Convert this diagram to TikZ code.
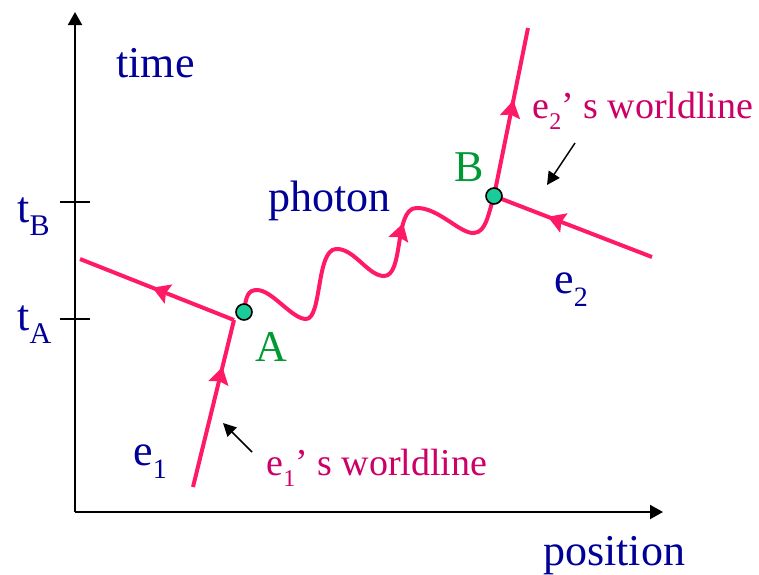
\documentclass[tikz,border=0pt]{standalone}
\usepackage{fontspec}
\setmainfont{Liberation Serif}
\definecolor{mNavy}{HTML}{000099}
\definecolor{mRose}{HTML}{FF1A66}
\definecolor{mPlum}{HTML}{CC0066}
\definecolor{mGreen}{HTML}{009933}
\definecolor{mMint}{HTML}{1ACC99}
\usetikzlibrary{arrows.meta,decorations.markings}
\newcommand{\lowsub}[2][14]{\raisebox{-0.3em}{\fontsize{#1}{#1}\selectfont #2}}

\begin{document}
\begin{tikzpicture}[x=0.5pt, y=-0.5pt, font=\fontsize{22}{24}\selectfont,
  world/.style={mRose, line width=2pt},
  midarrow/.style={postaction={decorate}, decoration={markings,
    mark=at position #1 with {\arrow{Stealth[length=8.5pt,width=10pt,inset=1.2pt]}}}},
  event/.style={circle, draw=black, fill=mMint, line width=0.8pt, inner sep=0pt, minimum size=8pt},
  lbl/.style={anchor=base west, inner sep=0pt, text=mNavy},
  pointer/.style={-{Triangle[length=6.5pt,width=6.5pt]}, line width=0.75pt}]
\useasboundingbox (0,0) rectangle (759,574);
% axes
\coordinate (O) at (75,512);
\coordinate (tTop) at (75,12);
\coordinate (xEnd) at (663,512);
\draw[line width=1pt, -{Triangle[length=6.5pt,width=7pt]}] (O) -- (tTop);
\draw[line width=1pt, -{Triangle[length=6.5pt,width=7pt]}] (O) -- (xEnd);
\node[lbl] (timeLbl) at (116,77) {time};
\node[lbl] (posLbl) at (543,565) {position};
% ticks for the two events
\coordinate (tBl) at (60,202); \coordinate (tBr) at (90,202);
\coordinate (tAl) at (60,319); \coordinate (tAr) at (90,319);
\draw[line width=0.75pt] (tBl) -- (tBr);
\draw[line width=0.75pt] (tAl) -- (tAr);
\node[lbl] (tBLbl) at (17,222) {t\lowsub[15]{B}};
\node[lbl] (tALbl) at (17,330) {t\lowsub[15]{A}};
% electron 1 and event A
\coordinate (e1Start) at (193,487);
\coordinate (A) at (234,320);
\coordinate (e1End) at (80,259);
\draw[world, midarrow=0.72] (e1Start) -- (A);
\draw[world, midarrow=0.53] (A) -- (e1End);
% electron 2 and event B
\coordinate (B) at (494,196);
\coordinate (e2Start) at (652,257);
\coordinate (e2End) at (528,28);
\draw[world, midarrow=0.66] (e2Start) -- (B);
\draw[world, midarrow=0.57] (B) -- (e2End);
% photon from A to B
\coordinate (Aw) at (244,312);
\draw[world, midarrow=0.685] (Aw) .. controls (246,296) and (248,290) .. (257,290)
  .. controls (272,290) and (292,319) .. (306,319)
  .. controls (322,319) and (316,250) .. (336,249)
  .. controls (354,248) and (368,276) .. (384,276)
  .. controls (404,276) and (394,209) .. (416,208)
  .. controls (438,207) and (460,234) .. (474,233)
  .. controls (486,232) and (488,215) .. (B);
\node[event] (Adot) at (Aw) {};
\node[event] (Bdot) at (B) {};
\node[lbl, text=mGreen] (ALbl) at (255,361) {A};
\node[lbl, text=mGreen] (BLbl) at (454,181) {B};
\node[lbl] (photonLbl) at (268,211) {photon};
\node[lbl] (e1Lbl) at (133,465) {e\lowsub{1}};
\node[lbl] (e2Lbl) at (554,293) {e\lowsub{2}};
% worldline labels
\node[lbl, text=mPlum, font=\fontsize{19}{21}\selectfont] (w1Lbl) at (266,475) {e\lowsub[12]{1}’ s worldline};
\node[lbl, text=mPlum, font=\fontsize{19}{21}\selectfont] (w2Lbl) at (532,118) {e\lowsub[12]{2}’ s worldline};
\coordinate (p1From) at (252,452); \coordinate (p1To) at (223,423);
\coordinate (p2From) at (575,143); \coordinate (p2To) at (547,185);
\draw[pointer] (p1From) -- (p1To);
\draw[pointer] (p2From) -- (p2To);
\end{tikzpicture}
\end{document}
